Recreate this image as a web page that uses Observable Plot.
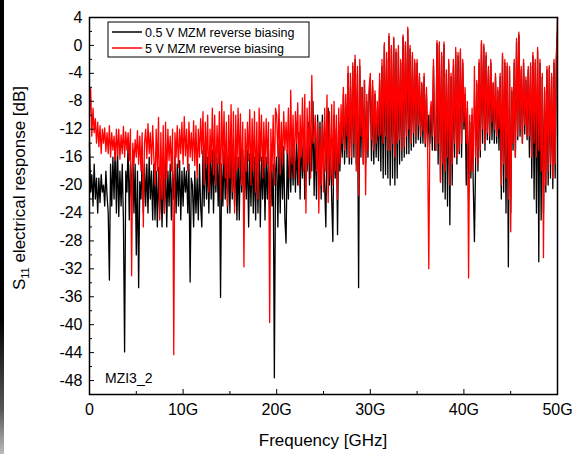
<!DOCTYPE html>
<html>
<head>
<meta charset="utf-8">
<script src="https://cdn.jsdelivr.net/npm/d3@7"></script>
<script src="https://cdn.jsdelivr.net/npm/@observablehq/plot@0.6"></script>
<style>
  html, body { margin: 0; padding: 0; background: #fff; }
  #wrap { position: relative; width: 576px; height: 454px; overflow: hidden; }
  #edge { position: absolute; left: 0; top: 0; width: 4px; height: 454px;
          background: linear-gradient(to bottom, #000 0%, #000 70%, #555 90%, #bbb 100%); }
</style>
</head>
<body>
<div id="wrap"><div id="edge"></div></div>
<script>
// Frequency grid: 0 to 50 GHz, 0.125 GHz steps
const freqStepGHz = 0.125;

// S11 [dB], 0.5 V MZM reverse biasing (black) — one row per GHz
const s11_05V = [
  -14, -21, -18.5, -23, -17, -22, -19, -24,
  -19, -22.5, -18.5, -21, -20, -23, -18, -21.5,
  -24, -33.6, -17, -23, -16, -22, -14, -24,
  -15, -24.5, -18, -23, -17, -25, -43.9, -18,
  -21, -14, -25, -17, -22, -15, -24, -17,
  -30, -18, -34.7, -19.5, -22, -16.5, -24, -17,
  -23, -17, -24, -16, -22, -18, -25, -17,
  -25, -18, -26, -17.5, -24, -19, -26, -18,
  -24, -16.5, -26, -18, -23, -17, -25, -18,
  -22, -16, -24, -17, -23, -16.5, -25, -18,
  -23, -17.5, -21, -18, -24, -17, -33.9, -19,
  -20, -26, -18, -24, -19, -25, -17, -23,
  -26, -15, -23, -14, -22, -16, -24, -15,
  -22, -15, -24, -14.5, -21, -16, -23, -15,
  -36.1, -17, -23, -15, -22, -16, -24, -15.5,
  -24, -14.5, -22, -16, -23, -15, -25, -16,
  -25, -14, -21, -15, -24, -16, -22, -15,
  -26, -15.5, -23, -14.5, -24, -16, -25, -15,
  -24, -14, -26, -16, -22, -15, -25, -16,
  -22, -15, -25, -16, -23, -17, -47.6, -18,
  -16, -26, -14, -24, -15, -22, -14.5, -25,
  -28.3, -15, -22, -13, -21, -14, -20, -13.5,
  -21, -14, -20, -12.5, -22, -13, -19, -12,
  -22, -15, -18, -11, -20, -12, -18, -8,
  -21.5, -12, -22, -10, -20, -11, -22, -10,
  -15, -20, -26, -12, -9, -20, -14, -22,
  -28.1, -10, -19, -12, -27.1, -11, -18, -12,
  -16, -7, -17, -9, -16, -4, -17, -6,
  -17, -3, -16, -2, -17, -4, -34.7, -3,
  -16, -6, -17, -5, -17, -8, -16, -7,
  -5, -16.5, -6, -17, -7, -16, -9, -16.5,
  -5, -18, -3, -19, 0, -18.5, -2, -19,
  1.3, -20, -0.5, -19, 1, -20, -1, -19,
  -1, -17, -2.5, -16.5, 1.2, -16, 0, -15.5,
  2.3, -15.5, -0.5, -15, -1.5, -14.5, -2.5, -14,
  -2.5, -13.5, -4.5, -14, -5.5, -14, -4.5, -14.5,
  -7, -14.5, -10, -14, -9, -15, -3, -15,
  -15, 0.3, -17, 0, -19.5, -1.5, -21, 0.1,
  -22, -4, -23, -2.5, -25.7, -4.5, -20, -3,
  -16, -1, -17, -1.5, -15.5, -1, -16, -2.5,
  -12, -7, -20, -9, -22, -11, -19, -10,
  -20, -28.1, -17, -5.5, -18, -2.5, -16, 0.3,
  -14, -0.2, -15, -1.5, -13.5, -3.5, -14, -2.5,
  -13.5, -5.5, -14, -4.5, -14, -6.5, -15, -4.5,
  -22, -1.5, -21, -2.5, -24, -3, -31.7, -3.5,
  -24, -6.5, -15, -2.5, -16, 0.5, -13.5, 1.5,
  -13, -3.5, -14, -2.5, -12.7, -5, -13.5, -3.5,
  -16, -3, -19, -1.5, -22, -2.5, -24, -0.7,
  -31, -2.5, -25, -4.5, -24, -6.5, -21, -3.5,
  -20, -3.2, -19, -4.5, -20.5, -2.5, -19, -2,
  2
];

// S11 [dB], 5 V MZM reverse biasing (red) — one row per GHz
const s11_5V = [
  -10, -6.2, -13, -9, -12.5, -10.5, -14, -11,
  -14.5, -11.5, -15.5, -12, -14, -11.8, -15.2, -12.5,
  -15.5, -11.5, -16, -12.5, -15, -13, -16.5, -12,
  -15.8, -12, -16.3, -12.8, -15.5, -11.6, -16, -12.4,
  -15, -12.5, -16.5, -12, -33, -14, -17, -13.5,
  -16, -12.2, -17, -13, -18, -12.5, -26, -14,
  -12, -16.2, -11.2, -15.5, -12.5, -17, -11.5, -16,
  -20, -12, -18, -10.3, -25, -12.5, -22, -11.5,
  -24, -11, -19, -12, -16.5, -13, -18, -12,
  -44.3, -12.5, -16, -11.5, -17.5, -12, -15.5, -11,
  -17, -10.2, -15.8, -12, -18, -11, -16, -12.5,
  -16.5, -10.8, -17.2, -11.5, -19, -12, -16, -10.5,
  -15.5, -9.5, -20, -11, -17, -10, -21, -12,
  -16.8, -9, -18.5, -10, -20, -11.5, -17, -9.5,
  -22, -8, -17, -9.5, -19, -11, -23, -10,
  -19, -8.5, -21, -9.5, -24, -10, -18, -9,
  -17.5, -9.8, -20, -11, -31.7, -12, -18, -11,
  -16.5, -9.2, -20, -10.5, -18, -9.5, -21, -11,
  -22, -9, -16.5, -10, -19, -11, -17.5, -10.5,
  -17, -11, -39.7, -12, -18, -10, -20, -9,
  -10, -16, -8.5, -18.5, -11, -17, -9.5, -15,
  -11, -15.5, -9, -19, -6.4, -17, -10, -19,
  -9.5, -14, -8.2, -20, -10, -16, -7.5, -18,
  -7, -24, -9, -17, -8, -19, -4.3, -14,
  -13, -10, -18, -11, -24, -12, -20, -11,
  -21, -9, -18, -7.1, -22.5, -9.5, -19, -8.5,
  -20, -8, -18, -10, -22, -9, -17, -8.5,
  -14, -6, -15, -7, -13, -3, -16, -4,
  -16, -2.5, -14, -1.4, -18, -3, -21.5, -2,
  -13, -6, -17, -5, -21.4, -7, -15, -6,
  -4, -13.5, -5, -15, -6.5, -14, -8, -13,
  -4, -12.8, -2, -14, 0.4, -13, -1, -15,
  1.7, -15, 0, -14, 1.2, -16, -0.5, -14,
  0, -13.5, -2, -15, 1.5, -14.5, 0.5, -13,
  2.6, -12, 0, -14, -1, -12.5, -2, -13,
  -2, -11.5, -4, -13, -5.3, -12.2, -4, -14,
  -6, -15, -32, -10, -8, -13, -2, -12,
  -15, 0.7, -14, 0.5, -19.6, -1, -17, 0.5,
  -18, -3.5, -16, -2, -20, -4, -17, -2,
  -14, -0.3, -16, -1, -15, -0.5, -14, -2,
  -11, -6, -14, -8, -33.3, -10, -18, -9,
  -18, -3, -16, -5, -17, -2, -15, 0.7,
  -12, 0.2, -14, -1, -12.5, -3, -13, -2,
  -11, -5.3, -12, -4, -13, -6, -12, -4,
  -20, -1.1, -17, -2, -19, -2.5, -22, -3,
  -26.7, -6, -14, -2, -16, 1, -13, 1.9,
  -12, -3, -14, -2, -11.4, -4.5, -13, -3,
  -13, -2.5, -16, -1, -14, -2, -16, -0.3,
  -15, -2, -18, -4, -30.4, -6, -20, -3,
  -18, -2.9, -17, -4, -19, -2, -17, -1.5,
  4
];

const yMajorTicks = [4, 0, -4, -8, -12, -16, -20, -24, -28, -32, -36, -40, -44, -48];
const yMinorTicks = [2, -2, -6, -10, -14, -18, -22, -26, -30, -34, -38, -42, -46, -50];
const xMajorTicks = [0, 10, 20, 30, 40, 50];
const xMinorTicks = [5, 15, 25, 35, 45];
const xTickLabels = ["0", "10G", "20G", "30G", "40G", "50G"];

const seriesNames = ["0.5 V MZM reverse biasing", "5 V MZM reverse biasing"];
const seriesColors = ["#000000", "#ff0000"];

const black = s11_05V.map((v, i) => ({f: i * freqStepGHz, v}));
const red = s11_5V.map((v, i) => ({f: i * freqStepGHz, v}));

const font = '"Liberation Sans", Arial, sans-serif';

const chart = Plot.plot({
  width: 576,
  height: 454,
  marginLeft: 89,
  marginRight: 19,
  marginTop: 17,
  marginBottom: 60,
  style: {fontFamily: font, fontSize: "16px", background: "transparent", color: "#000"},
  x: {domain: [0, 50]},
  y: {domain: [-50, 4]},
  marks: [
    Plot.line(black, {x: "f", y: "v", stroke: seriesColors[0], strokeWidth: 1.3}),
    Plot.line(red, {x: "f", y: "v", stroke: seriesColors[1], strokeWidth: 1.3}),
    Plot.axisY({ticks: yMajorTicks, tickSize: -5, tickPadding: 12, tickFormat: d => String(d), label: null, fontSize: 16}),
    Plot.axisY({ticks: yMinorTicks, tickSize: -3, tickFormat: () => "", label: null}),
    Plot.axisX({ticks: xMajorTicks, tickSize: -5, tickPadding: 14, tickFormat: d => xTickLabels[xMajorTicks.indexOf(d)], label: null, fontSize: 16}),
    Plot.axisX({ticks: xMinorTicks, tickSize: -3, tickFormat: () => "", label: null}),
    Plot.frame({stroke: "#000", strokeWidth: 1.5})
  ]
});

document.getElementById("wrap").appendChild(chart);
chart.style.position = "absolute";
chart.style.left = "0px";
chart.style.top = "0px";

const svg = d3.select(chart);

// Y axis title with subscript
const yt = svg.append("text")
  .attr("transform", "translate(25,188) rotate(-90)")
  .attr("text-anchor", "middle")
  .attr("font-family", font)
  .attr("font-size", 17)
  .attr("fill", "#000");
yt.append("tspan").text("S");
yt.append("tspan").attr("font-size", 11).attr("dy", 4).text("11");
yt.append("tspan").attr("dy", -4).text(" electrical response [dB]");

// X axis title
svg.append("text")
  .attr("x", 323).attr("y", 446)
  .attr("text-anchor", "middle")
  .attr("font-family", font)
  .attr("font-size", 17)
  .attr("fill", "#000")
  .text("Frequency [GHz]");

// Legend
const lg = svg.append("g");
lg.append("rect").attr("x", 108).attr("y", 22).attr("width", 201).attr("height", 35)
  .attr("fill", "#fff").attr("stroke", "#000").attr("stroke-width", 1);
seriesNames.forEach((name, i) => {
  const y = 32 + i * 16;
  lg.append("line").attr("x1", 112).attr("x2", 142).attr("y1", y).attr("y2", y)
    .attr("stroke", seriesColors[i]).attr("stroke-width", 1.5);
  lg.append("text").attr("x", 145).attr("y", y + 4.5)
    .attr("text-anchor", "start")
    .attr("font-family", font).attr("font-size", 12.5).attr("fill", "#000").text(name);
});

// Sample label
svg.append("text").attr("x", 105).attr("y", 383)
  .attr("text-anchor", "start")
  .attr("font-family", font).attr("font-size", 14).attr("fill", "#000").text("MZI3_2");
</script>
</body>
</html>
